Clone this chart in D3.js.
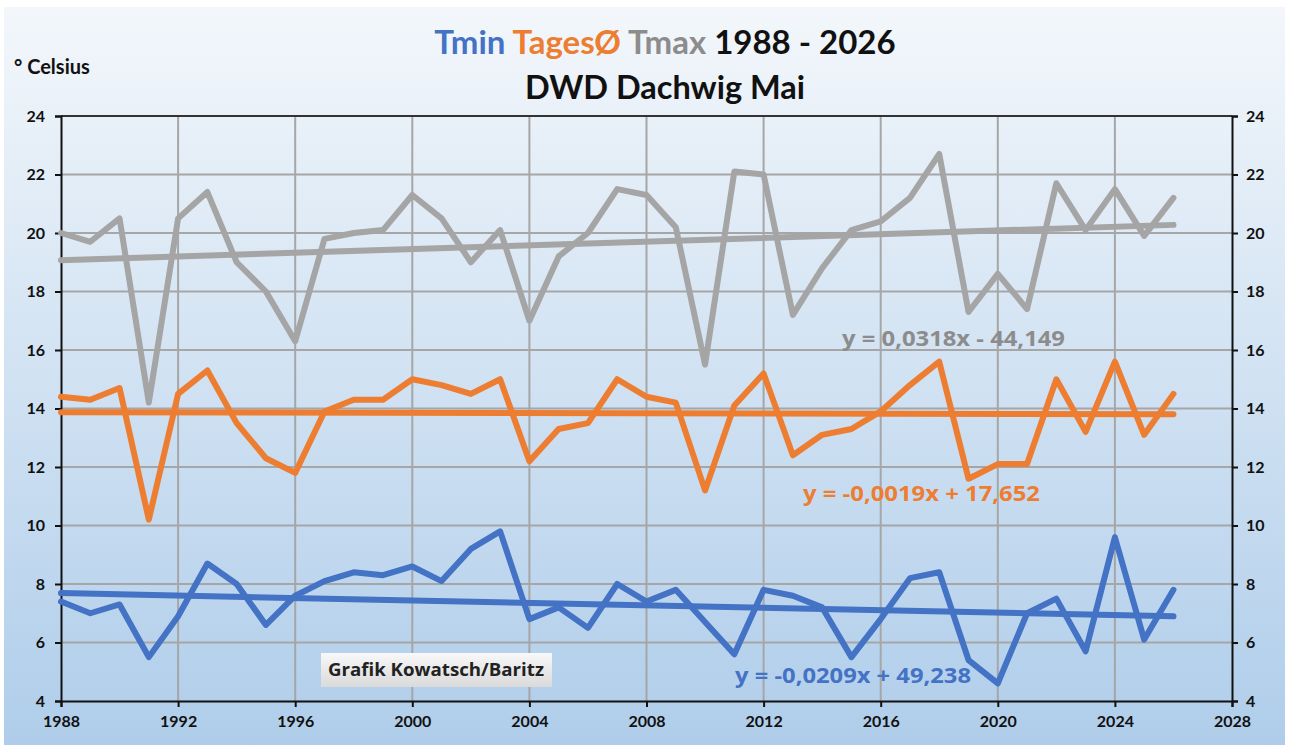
<!DOCTYPE html>
<html>
<head>
<meta charset="utf-8">
<script src="https://cdn.jsdelivr.net/npm/d3@7"></script>
<style>
html,body{margin:0;padding:0;background:#fff;}
svg{display:block;}
text{font-family:Lato,"Open Sans",sans-serif;font-weight:bold;}
</style>
</head>
<body>
<svg id="chart" width="1290" height="745"></svg>
<script>
const years = d3.range(1988, 2027);
const tmax = [20.0,19.7,20.5,14.2,20.5,21.4,19.0,18.0,16.3,19.8,20.0,20.1,21.3,20.5,19.0,20.1,17.0,19.2,20.0,21.5,21.3,20.2,15.5,22.1,22.0,17.2,18.8,20.1,20.4,21.2,22.7,17.3,18.6,17.4,21.7,20.1,21.5,19.9,21.2];
const tavg = [14.4,14.3,14.7,10.2,14.5,15.3,13.5,12.3,11.8,13.9,14.3,14.3,15.0,14.8,14.5,15.0,12.2,13.3,13.5,15.0,14.4,14.2,11.2,14.1,15.2,12.4,13.1,13.3,13.9,14.8,15.6,11.6,12.1,12.1,15.0,13.2,15.6,13.1,14.5];
const tmin = [7.4,7.0,7.3,5.5,6.9,8.7,8.0,6.6,7.6,8.1,8.4,8.3,8.6,8.1,9.2,9.8,6.8,7.2,6.5,8.0,7.4,7.8,6.7,5.6,7.8,7.6,7.2,5.5,6.8,8.2,8.4,5.4,4.6,7.0,7.5,5.7,9.6,6.1,7.8];
const seriesNames = ["Tmax","TagesØ","Tmin"];
const seriesColors = ["#a5a5a5","#ed7d31","#4472c4"];
const trendSlopes = [0.0318,-0.0019,-0.0209];
const trendIntercepts = [-44.149,17.652,49.238];
const trendLabels = ["y = 0,0318x - 44,149","y = -0,0019x + 17,652","y = -0,0209x + 49,238"];
const xTicks = d3.range(1988, 2029, 4);
const yTicks = d3.range(4, 25, 2);

const svg = d3.select("#chart");
const W = 1290, H = 745;
const m = {left:61, right:1232, top:116, bottom:701};

const defs = svg.append("defs");
const bg = defs.append("linearGradient").attr("id","bg").attr("x1",0).attr("y1",0).attr("x2",0).attr("y2",1);
bg.append("stop").attr("offset","0%").attr("stop-color","#f3f7fb");
bg.append("stop").attr("offset","100%").attr("stop-color","#afcdea");
const bx = defs.append("linearGradient").attr("id","box").attr("x1",0).attr("y1",0).attr("x2",0).attr("y2",1);
bx.append("stop").attr("offset","0%").attr("stop-color","#f8f8f8");
bx.append("stop").attr("offset","100%").attr("stop-color","#dadada");

svg.append("rect").attr("x",4).attr("y",7).attr("width",W-9).attr("height",H-7).attr("fill","url(#bg)");

const x = d3.scaleLinear().domain([1988,2028]).range([m.left,m.right]);
const y = d3.scaleLinear().domain([4,24]).range([m.bottom,m.top]);

// grid
svg.append("g").selectAll("line").data(xTicks.slice(1,-1)).join("line")
  .attr("x1",d=>x(d)).attr("x2",d=>x(d)).attr("y1",m.top).attr("y2",m.bottom)
  .attr("stroke","#a6a6a6").attr("stroke-width",2);
svg.append("g").selectAll("line").data(yTicks.slice(1,-1)).join("line")
  .attr("x1",m.left).attr("x2",m.right).attr("y1",d=>y(d)).attr("y2",d=>y(d))
  .attr("stroke","#a6a6a6").attr("stroke-width",2);
svg.append("line").attr("x1",m.left).attr("x2",m.right).attr("y1",m.top).attr("y2",m.top).attr("stroke","#333").attr("stroke-width",2);

// axes
const axL = svg.append("g").attr("transform",`translate(${m.left},0)`)
  .call(d3.axisLeft(y).tickValues(yTicks).tickSize(6).tickPadding(10));
const axR = svg.append("g").attr("transform",`translate(${m.right},0)`)
  .call(d3.axisRight(y).tickValues(yTicks).tickSize(6).tickPadding(8));
const axB = svg.append("g").attr("transform",`translate(0,${m.bottom})`)
  .call(d3.axisBottom(x).tickValues(xTicks).tickFormat(d3.format("d")).tickSize(6).tickPadding(9));
[axL,axR,axB].forEach(g=>{
  g.select(".domain").attr("stroke","#111").attr("stroke-width",2);
  g.selectAll(".tick line").attr("stroke","#111").attr("stroke-width",2);
  g.selectAll(".tick text").attr("fill","#111").style("font-size","16px").style("font-family","Lato, sans-serif").style("font-weight","bold");
});

// series
const data = [tmax, tavg, tmin];
const line = d3.line().x((d,i)=>x(years[i])).y(d=>y(d));
data.forEach((s,k)=>{
  const ends = [years[0], years[years.length-1]];
  svg.append("path").datum(ends)
    .attr("d", d3.line().x(d=>x(d)).y(d=>y(trendSlopes[k]*d+trendIntercepts[k])))
    .attr("fill","none").attr("stroke",seriesColors[k]).attr("stroke-width",6).attr("stroke-linecap","round");
});
data.forEach((s,k)=>{
  svg.append("path").datum(s).attr("d",line)
    .attr("fill","none").attr("stroke",seriesColors[k]).attr("stroke-width",6)
    .attr("stroke-linejoin","round").attr("stroke-linecap","round");
});

// trend labels
const labelPos = [[842,346],[803,501],[735,683]];
const labelWidths = [223,237,236];
const labelColors = ["#8c8c8c","#ed7d31","#4472c4"];
trendLabels.forEach((t,k)=>{
  svg.append("text").attr("x",labelPos[k][0]).attr("y",labelPos[k][1])
    .attr("textLength",labelWidths[k]).attr("lengthAdjust","spacingAndGlyphs")
    .attr("fill",labelColors[k]).style("font-family","'Open Sans', sans-serif").style("font-size","21px").text(t);
});

// credit box
svg.append("rect").attr("x",321).attr("y",653).attr("width",231).attr("height",34).attr("fill","url(#box)");
svg.append("text").attr("x",328).attr("y",676).attr("fill","#222")
  .attr("textLength",216).attr("lengthAdjust","spacingAndGlyphs")
  .style("font-family","'Open Sans', sans-serif").style("font-size","18px").text("Grafik Kowatsch/Baritz");

// titles
const t1 = svg.append("text").attr("x",665).attr("y",54).attr("text-anchor","middle").style("font-size","33px");
t1.append("tspan").attr("fill","#4472c4").text("Tmin ");
t1.append("tspan").attr("fill","#ed7d31").text("TagesØ ");
t1.append("tspan").attr("fill","#8c8c8c").text("Tmax ");
t1.append("tspan").attr("fill","#111").text("1988 - 2026");
svg.append("text").attr("x",665).attr("y",99).attr("text-anchor","middle").attr("fill","#111").style("font-size","32.5px").text("DWD Dachwig Mai");
svg.append("text").attr("x",14).attr("y",74).attr("fill","#111").style("font-size","20px").text("° Celsius");
</script>
</body>
</html>
